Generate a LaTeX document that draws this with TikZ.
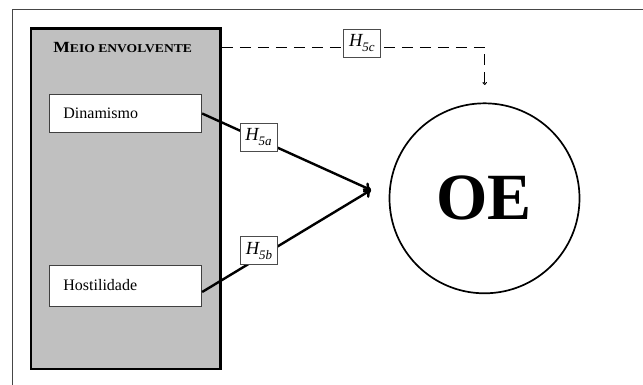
\documentclass[tikz,border=0pt]{standalone}
\usepackage{fontspec}
\setmainfont{Liberation Serif}
\usetikzlibrary{arrows.meta}
\definecolor{silverfill}{RGB}{192,192,192}
\definecolor{framegray}{RGB}{70,70,70}
\newcommand{\hyplabel}[1]{H\raisebox{-0.28em}{\fontsize{13}{13}\selectfont #1}}
\tikzset{
  envbox/.style={draw=black, fill=silverfill, line width=2.5pt, minimum width=189.8pt, minimum height=340.7pt, inner sep=0pt},
  varbox/.style={draw=black!75, fill=white, line width=0.9pt, text width=124.6pt, inner xsep=13.7pt, inner ysep=0pt, align=left, font=\fontsize{16}{18}\selectfont},
  hypbox/.style={draw=black!70, fill=white, line width=0.8pt, minimum width=37pt, minimum height=28pt, inner sep=1pt, font=\fontsize{18.5}{20}\selectfont\itshape},
  mainarrow/.style={line width=2.4pt, -{To[length=7pt,width=11pt]}},
  dasharrow/.style={line width=1pt, dash pattern=on 11pt off 7pt, -{To[length=3pt,width=4.5pt]}},
}
\begin{document}
\begin{tikzpicture}[x=1pt,y=-1pt]
\clip (0,0) rectangle (643,384);
\fill[white] (0,0) rectangle (643,384);
% outer frame
\draw[framegray, line width=1.1pt] (12.3,9.5) rectangle (700,450);
% environment box
\node[envbox] (env) at (125.7,198.65) {};
\node[inner sep=0pt, anchor=center] (envlabel) at (122.7,48) {\scalebox{1.133}[1]{\bfseries\fontsize{15.5}{18}\selectfont M\fontsize{12}{14}\selectfont EIO ENVOLVENTE}};
\node[varbox, minimum height=37.6pt] (dina) at (125.7,113.5) {Dinamismo};
\node[varbox, minimum height=41pt] (host) at (125.7,285.5) {Hostilidade};
% OE circle
\node[draw, circle, line width=1.7pt, minimum size=190pt, inner sep=0pt] (oe) at (484.5,198.3) {};
\node[inner sep=0pt, font=\fontsize{66}{66}\selectfont\bfseries] (oetext) at (484,198.3) {OE};
% connectors
\coordinate (tip) at (371,190);
\draw[mainarrow] (dina.east) -- (tip);
\draw[mainarrow] ([yshift=-6.5pt]host.east) -- (tip);
\coordinate (dcorner) at (484.7,47.3);
\coordinate (dend) at (484.7,85);
\draw[dasharrow] (env.east |- dcorner) -- (dcorner) -- (dend);
% hypothesis labels
\node[hypbox] (h5a) at (258.5,137.2) {\hyplabel{5a}};
\node[hypbox] (h5b) at (259,250.6) {\hyplabel{5b}};
\node[hypbox] (h5c) at (361.9,43) {\hyplabel{5c}};
\end{tikzpicture}
\end{document}
